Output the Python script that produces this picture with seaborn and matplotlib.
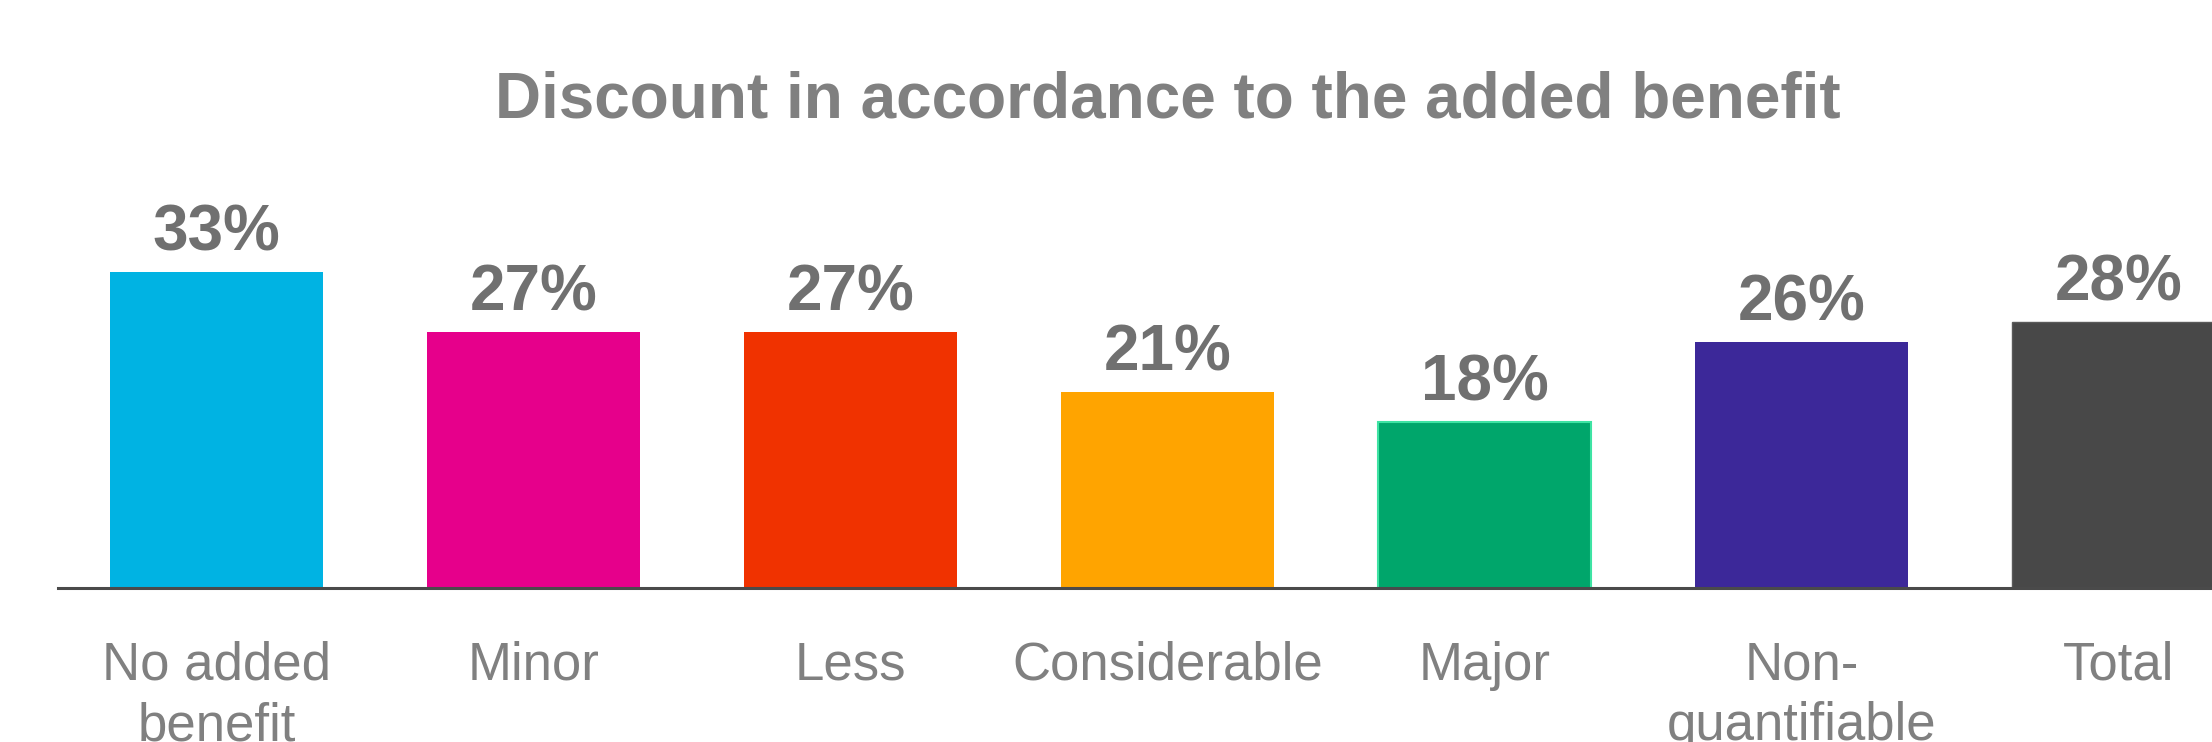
import matplotlib
matplotlib.use("Agg")
import matplotlib.pyplot as plt
import matplotlib.transforms as mtransforms
import seaborn as sns
import pandas as pd

# ---- data ----
categories = ["No added\nbenefit", "Minor", "Less", "Considerable", "Major",
              "Non-\nquantifiable", "Total"]
discount_pct = [33, 27, 27, 21, 18, 26, 28]
bar_colors = ["#00B3E3", "#E6008B", "#F03200", "#FFA400", "#00A66B", "#3C2899", "#484848"]
title = "Discount in accordance to the added benefit"

sns.set_theme(style="white")
plt.rcParams["font.family"] = ["Liberation Sans", "DejaVu Sans"]

W, H, DPI = 2212, 742, 100
fig = plt.figure(figsize=(W / DPI, H / DPI), dpi=DPI)
base_px = 588
left_px = 58
ax = fig.add_axes([left_px / W, (H - base_px) / H, (W - left_px) / W, base_px / H])

df = pd.DataFrame({"cat": categories, "val": discount_pct})
sns.barplot(data=df, x="cat", y="val", hue="cat", palette=bar_colors,
            legend=False, width=0.669, saturation=1, ax=ax, linewidth=0)

# subtle edges as in the reference
ax.patches[4].set_edgecolor("#3EE3A3")
ax.patches[4].set_linewidth(1.5)
ax.patches[6].set_edgecolor("#5a5a5a")
ax.patches[6].set_linewidth(1.0)

ax.set_xlim(-0.5, -0.5 + (W - left_px) / 317)
ax.set_ylim(1.4, 1.4 + base_px / 10)

for s in ["top", "right", "left"]:
    ax.spines[s].set_visible(False)
ax.spines["bottom"].set_color("#4a4a4a")
ax.spines["bottom"].set_linewidth(2.2)

ax.set_xlabel("")
ax.set_ylabel("")
ax.set_yticks([])
ax.set_xticks(range(len(categories)))
ax.set_xticklabels(categories, fontsize=38, color="#808080", linespacing=1.27)
ax.tick_params(axis="x", length=0, pad=38)

for i, v in enumerate(discount_pct):
    ax.annotate(f"{v}%", xy=(i, v), xytext=(0, 15.8), textcoords="offset points",
                ha="center", va="baseline", fontsize=46, fontweight="bold",
                color="#707070")

trans = mtransforms.blended_transform_factory(ax.transData, ax.transAxes)
ax.text(3, 470 / base_px, title, transform=trans, ha="center", va="baseline",
        fontsize=46, fontweight="bold", color="#808080")

fig.savefig("out.png", dpi=DPI)
